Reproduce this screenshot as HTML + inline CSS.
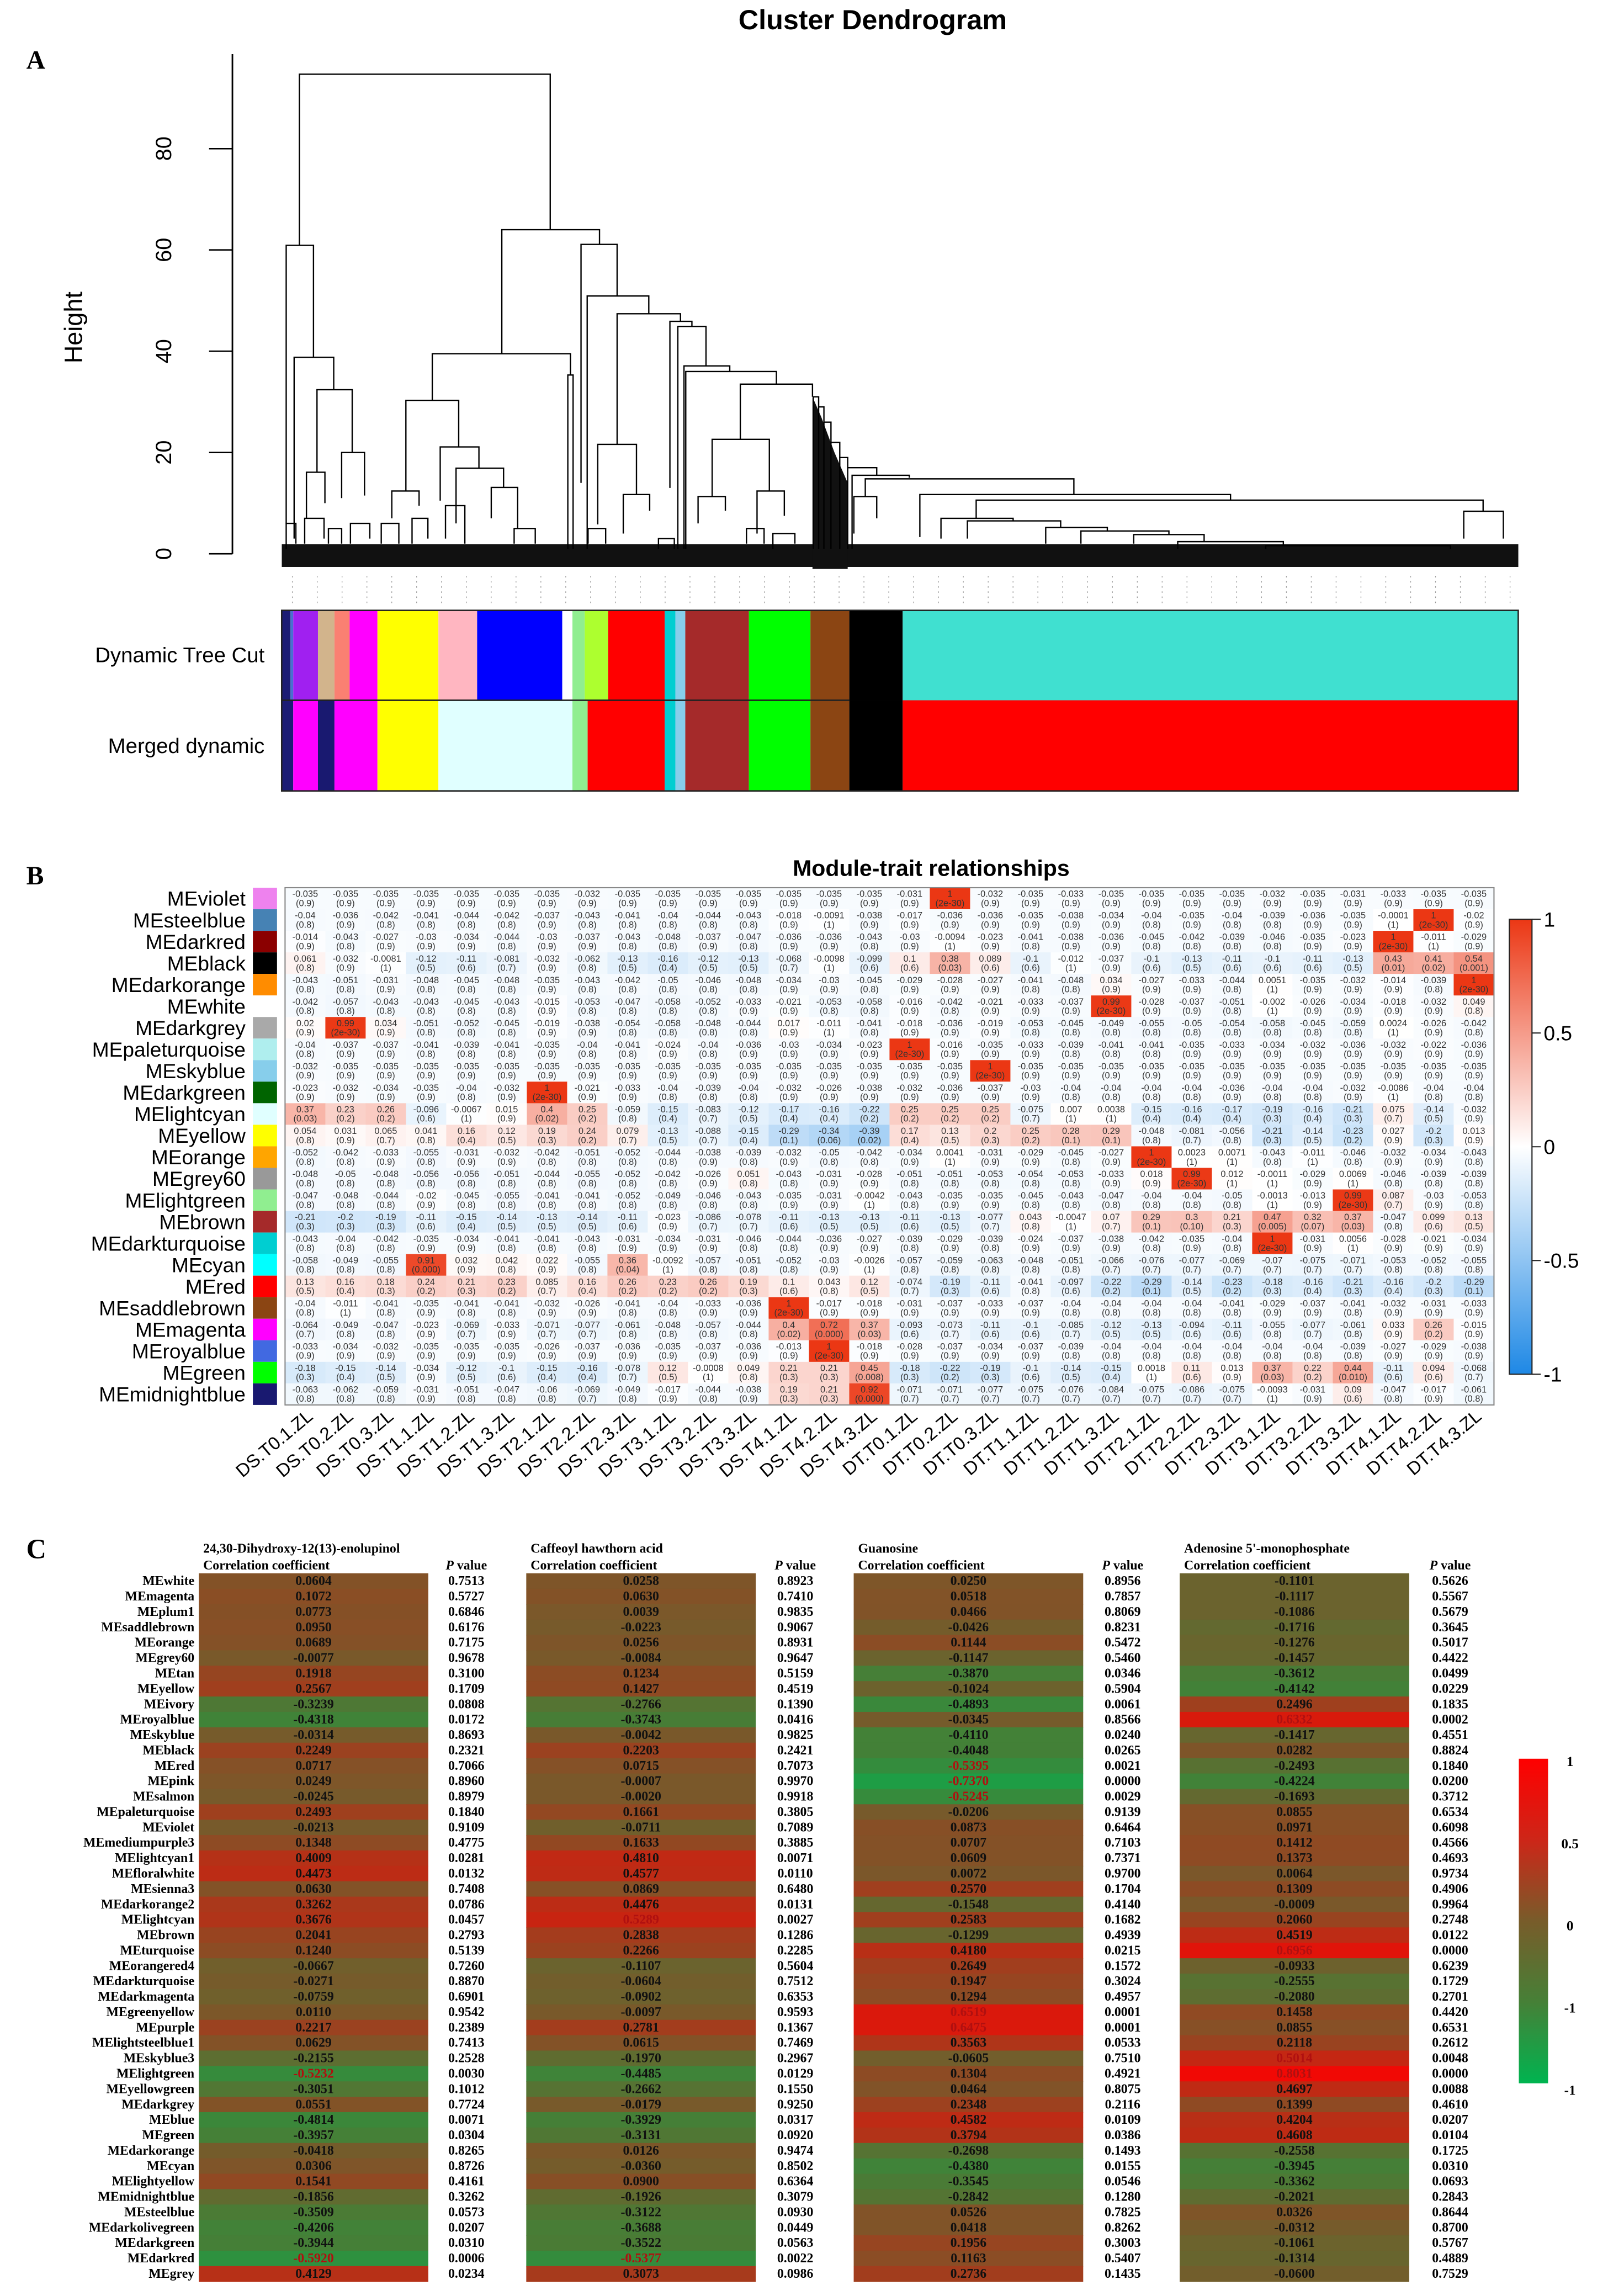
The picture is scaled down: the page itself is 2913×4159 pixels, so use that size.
<!DOCTYPE html>
<html><head><meta charset="utf-8">
<style>
html,body{margin:0;padding:0;background:#fff;}
svg{display:block;}
</style></head>
<body>
<svg id="fig" xmlns="http://www.w3.org/2000/svg" width="2913" height="4159" viewBox="0 0 1100 1570.5" preserveAspectRatio="none" font-family="Liberation Sans, sans-serif">
<rect x="0" y="0" width="1100" height="1570.5" fill="#fff"/>
<g id="panelA"></g>
<g id="panelB"></g>
<g id="panelC"></g>
</svg>
<script>
// ---------- Panel A data ----------
const heightTicks = [0, 20, 40, 60, 80];
// merges: [leftPos, rightPos, mergeHeight, leftChildHeight, rightChildHeight]
const merges = [
 [152,437,94.7,60.9,64.0],[137,168,60.9,6,38.8],[146,191,38.8,3,32.4],[172,212,32.4,16.1,20.0],
 [160,181,16.1,7,10],[200,226,20.0,11,11.5],[382,493,64.0,39.5,61.1],[303,460,39.5,30.3,35.3],
 [273,333,30.3,12.4,21.1],[257,288,12.4,7,9.5],[312,356,21.1,10.5,16.9],[330,384,16.9,6,13.1],
 [370,400,13.1,7,5],[457,463,35.3,1,1],[472,513,61.1,14,50.9],[479,549,50.9,1,47.4],
 [513,585,47.4,21.6,45.9],[491,535,21.6,5.8,11.7],[520,550,11.7,4,8.5],[573,598,45.9,13,44.9],
 [582,614,44.9,1,37.1],[589,641,37.1,1,36.0],[591,694,36.0,1,33.5],[653,735,33.5,22.6,31],
 [621,686,22.6,11.3,12.4],[605,636,11.3,6,8.5],[672,703,12.4,4,7.5],
 [736,742,31,1,29],[742,748,29,1,26],[748,756,26,1,22],[756,766,22,1,19],[766,775,19,1,17],
 [775,808,17,1,15.5],[780,845,15.5,1,15],[795,1032,14.8,11.3,11.7],[782,808,11.3,4,7],
 [857,1210,11.7,3.3,10.6],[921,1497,10.6,7.0,8.4],[881,963,7.0,3,6.5],[1475,1520,8.4,3,3],
 [911,1017,6.5,3,5.2],[1000,1070,5.2,2,4.5],[1040,1140,4.5,2,3.8],[1100,1180,3.8,2,2.5],
 [1150,1270,2.4,1,1.6],[1250,1460,1.6,1,1],[137,148,6,1,2],[158,180,7,2,3],[185,200,5,2,2],
 [210,232,6,2,3],[245,265,6,2,2],[280,298,7,2,3],[318,340,9.5,3,2],[396,420,5,2,2],
 [480,500,5,2,2],[560,578,3,1,1],[660,680,5,2,2],[690,715,4,1,2]
];
// ---------- Panel A: color bars ----------
const treeCutColors = ["#1c1c74","#4a6fd0","#a020f0","#d2b48c","#fa8072","#ff00ff","#ffff00","#ffb6c1","#0000ff","#ffffff","#90ee90","#adff2f","#ff0000","#00ced1","#87ceeb","#a52a2a","#00ff00","#8b4513","#000000","#40e0d0"];
const treeCutBreaks = [192.7,198.7,200.6,217.5,228.8,239.2,258.2,299.9,326.4,384.6,391.6,400,416,454.7,462,468.8,512.3,554.4,581,617.5,1038.6];
const mergedColors = ["#1c1c74","#ff00ff","#191970","#ff00ff","#ffff00","#e0ffff","#90ee90","#ff0000","#00ced1","#87ceeb","#a52a2a","#00ff00","#8b4513","#000000","#ff0000"];
const mergedBreaks = [192.7,200.6,217.5,228.8,258.2,299.9,391.6,402,454.7,462,468.8,512.3,554.4,581,617.5,1038.6];

// ---------- Panel B data ----------
const modules = ["MEviolet","MEsteelblue","MEdarkred","MEblack","MEdarkorange","MEwhite","MEdarkgrey","MEpaleturquoise","MEskyblue","MEdarkgreen","MElightcyan","MEyellow","MEorange","MEgrey60","MElightgreen","MEbrown","MEdarkturquoise","MEcyan","MEred","MEsaddlebrown","MEmagenta","MEroyalblue","MEgreen","MEmidnightblue"];
const moduleColors = ["#ee82ee","#4682b4","#8b0000","#000000","#ff8c00","#ffffff","#a9a9a9","#afeeee","#87ceeb","#006400","#e0ffff","#ffff00","#ffa500","#999999","#90ee90","#a52a2a","#00ced1","#00ffff","#ff0000","#8b4513","#ff00ff","#4169e1","#00ff00","#191970"];
const traits = ["DS.T0.1.ZL","DS.T0.2.ZL","DS.T0.3.ZL","DS.T1.1.ZL","DS.T1.2.ZL","DS.T1.3.ZL","DS.T2.1.ZL","DS.T2.2.ZL","DS.T2.3.ZL","DS.T3.1.ZL","DS.T3.2.ZL","DS.T3.3.ZL","DS.T4.1.ZL","DS.T4.2.ZL","DS.T4.3.ZL","DT.T0.1.ZL","DT.T0.2.ZL","DT.T0.3.ZL","DT.T1.1.ZL","DT.T1.2.ZL","DT.T1.3.ZL","DT.T2.1.ZL","DT.T2.2.ZL","DT.T2.3.ZL","DT.T3.1.ZL","DT.T3.2.ZL","DT.T3.3.ZL","DT.T4.1.ZL","DT.T4.2.ZL","DT.T4.3.ZL"];
const rViolet = [-0.035,-0.035,-0.035,-0.035,-0.035,-0.035,-0.035,-0.032,-0.035,-0.035,-0.035,-0.035,-0.035,-0.035,-0.035,-0.031,1,-0.032,-0.035,-0.033,-0.035,-0.035,-0.035,-0.035,-0.032,-0.035,-0.031,-0.033,-0.035,-0.035];
const rSteelblue = [-0.04,-0.036,-0.042,-0.041,-0.044,-0.042,-0.037,-0.043,-0.041,-0.04,-0.044,-0.043,-0.018,-0.0091,-0.038,-0.017,-0.036,-0.036,-0.035,-0.038,-0.034,-0.04,-0.035,-0.04,-0.039,-0.036,-0.035,-0.0001,1,-0.02];
const rDarkred = [-0.014,-0.043,-0.027,-0.03,-0.034,-0.044,-0.03,-0.037,-0.043,-0.048,-0.037,-0.047,-0.036,-0.036,-0.043,-0.03,-0.0094,-0.023,-0.041,-0.038,-0.036,-0.045,-0.042,-0.039,-0.046,-0.035,-0.023,1,-0.011,-0.029];
const rBlack = [0.061,-0.032,-0.0081,-0.12,-0.11,-0.081,-0.032,-0.062,-0.13,-0.16,-0.12,-0.13,-0.068,-0.0098,-0.099,0.1,0.38,0.089,-0.1,-0.012,-0.037,-0.1,-0.13,-0.11,-0.1,-0.11,-0.13,0.43,0.41,0.54];
const rDarkorange = [-0.043,-0.051,-0.031,-0.048,-0.045,-0.048,-0.035,-0.043,-0.042,-0.05,-0.046,-0.048,-0.034,-0.03,-0.045,-0.029,-0.028,-0.027,-0.041,-0.048,0.034,-0.027,-0.033,-0.044,0.0051,-0.035,-0.032,-0.014,-0.039,1];
const rWhite = [-0.042,-0.057,-0.043,-0.043,-0.045,-0.043,-0.015,-0.053,-0.047,-0.058,-0.052,-0.033,-0.021,-0.053,-0.058,-0.016,-0.042,-0.021,-0.033,-0.037,0.99,-0.028,-0.037,-0.051,-0.002,-0.026,-0.034,-0.018,-0.032,0.049];
const rDarkgrey = [0.02,0.99,0.034,-0.051,-0.052,-0.045,-0.019,-0.038,-0.054,-0.058,-0.048,-0.044,0.017,-0.011,-0.041,-0.018,-0.036,-0.019,-0.053,-0.045,-0.049,-0.055,-0.05,-0.054,-0.058,-0.045,-0.059,0.0024,-0.026,-0.042];
const rPaleturquoise = [-0.04,-0.037,-0.037,-0.041,-0.039,-0.041,-0.035,-0.04,-0.041,-0.024,-0.04,-0.036,-0.03,-0.034,-0.023,1,-0.016,-0.035,-0.033,-0.039,-0.041,-0.041,-0.035,-0.033,-0.034,-0.032,-0.036,-0.032,-0.022,-0.036];
const rSkyblue = [-0.032,-0.035,-0.035,-0.035,-0.035,-0.035,-0.035,-0.035,-0.035,-0.035,-0.035,-0.035,-0.035,-0.035,-0.035,-0.035,-0.035,1,-0.035,-0.035,-0.035,-0.035,-0.035,-0.035,-0.035,-0.035,-0.035,-0.035,-0.035,-0.035];
const rDarkgreen = [-0.023,-0.032,-0.034,-0.035,-0.04,-0.032,1,-0.021,-0.033,-0.04,-0.039,-0.04,-0.032,-0.026,-0.038,-0.032,-0.036,-0.037,-0.03,-0.04,-0.04,-0.04,-0.04,-0.036,-0.04,-0.04,-0.032,-0.0086,-0.04,-0.04];
const rLightcyan = [0.37,0.23,0.26,-0.096,-0.0067,0.015,0.4,0.25,-0.059,-0.15,-0.083,-0.12,-0.17,-0.16,-0.22,0.25,0.25,0.25,-0.075,0.007,0.0038,-0.15,-0.16,-0.17,-0.19,-0.16,-0.21,0.075,-0.14,-0.032];
const rYellow = [0.054,0.031,0.065,0.041,0.16,0.12,0.19,0.24,0.079,-0.13,-0.088,-0.15,-0.29,-0.34,-0.39,0.17,0.13,0.2,0.25,0.28,0.29,-0.048,-0.081,-0.056,-0.21,-0.14,-0.23,0.027,-0.2,0.013];
const rOrange = [-0.052,-0.042,-0.033,-0.055,-0.031,-0.032,-0.042,-0.051,-0.052,-0.044,-0.038,-0.039,-0.032,-0.05,-0.042,-0.034,0.0041,-0.031,-0.029,-0.045,-0.027,1,0.0023,0.0071,-0.043,-0.011,-0.046,-0.032,-0.034,-0.043];
const rGrey60 = [-0.048,-0.05,-0.048,-0.056,-0.056,-0.051,-0.044,-0.055,-0.052,-0.042,-0.026,0.051,-0.043,-0.031,-0.028,-0.051,-0.051,-0.053,-0.054,-0.053,-0.033,0.018,0.99,0.012,-0.0011,-0.029,0.0069,-0.046,-0.039,-0.039];
const rLightgreen = [-0.047,-0.048,-0.044,-0.02,-0.045,-0.055,-0.041,-0.041,-0.052,-0.049,-0.046,-0.043,-0.035,-0.031,-0.0042,-0.043,-0.035,-0.035,-0.045,-0.043,-0.047,-0.04,-0.04,-0.05,-0.0013,-0.013,0.99,0.087,-0.03,-0.053];
const rBrown = [-0.21,-0.2,-0.19,-0.11,-0.15,-0.14,-0.13,-0.14,-0.11,-0.023,-0.086,-0.078,-0.11,-0.13,-0.13,-0.11,-0.13,-0.077,0.043,-0.0047,0.07,0.29,0.3,0.21,0.47,0.32,0.37,-0.047,0.099,0.13];
const rDarkturquoise = [-0.043,-0.04,-0.042,-0.035,-0.034,-0.041,-0.041,-0.043,-0.031,-0.034,-0.031,-0.046,-0.044,-0.036,-0.027,-0.039,-0.029,-0.039,-0.024,-0.037,-0.038,-0.042,-0.035,-0.04,1,-0.031,0.0056,-0.028,-0.021,-0.034];
const rCyan = [-0.058,-0.049,-0.055,0.91,0.032,0.042,0.022,-0.055,0.36,-0.0092,-0.057,-0.051,-0.052,-0.03,-0.0026,-0.057,-0.059,-0.063,-0.048,-0.051,-0.066,-0.076,-0.077,-0.069,-0.07,-0.075,-0.071,-0.053,-0.052,-0.055];
const rRed = [0.13,0.16,0.18,0.24,0.21,0.23,0.085,0.16,0.26,0.23,0.26,0.19,0.1,0.043,0.12,-0.074,-0.19,-0.11,-0.041,-0.097,-0.22,-0.29,-0.14,-0.23,-0.18,-0.16,-0.21,-0.16,-0.2,-0.29];
const rSaddlebrown = [-0.04,-0.011,-0.041,-0.035,-0.041,-0.041,-0.032,-0.026,-0.041,-0.04,-0.033,-0.036,1,-0.017,-0.018,-0.031,-0.037,-0.033,-0.037,-0.04,-0.04,-0.04,-0.04,-0.041,-0.029,-0.037,-0.041,-0.032,-0.031,-0.033];
const rMagenta = [-0.064,-0.049,-0.047,-0.023,-0.069,-0.033,-0.071,-0.077,-0.061,-0.048,-0.057,-0.044,0.4,0.72,0.37,-0.093,-0.073,-0.11,-0.1,-0.085,-0.12,-0.13,-0.094,-0.11,-0.055,-0.077,-0.061,0.033,0.26,-0.015];
const rRoyalblue = [-0.033,-0.034,-0.032,-0.035,-0.035,-0.035,-0.026,-0.037,-0.036,-0.035,-0.037,-0.036,-0.013,1,-0.018,-0.028,-0.037,-0.034,-0.037,-0.039,-0.04,-0.04,-0.04,-0.04,-0.04,-0.04,-0.039,-0.027,-0.029,-0.038];
const rGreen = [-0.18,-0.15,-0.14,-0.034,-0.12,-0.1,-0.15,-0.16,-0.078,0.12,-0.0008,0.049,0.21,0.21,0.45,-0.18,-0.22,-0.19,-0.1,-0.14,-0.15,0.0018,0.11,0.013,0.37,0.22,0.44,-0.11,0.094,-0.068];
const rMidnightblue = [-0.063,-0.062,-0.059,-0.031,-0.051,-0.047,-0.06,-0.069,-0.049,-0.017,-0.044,-0.038,0.19,0.21,0.92,-0.071,-0.071,-0.077,-0.075,-0.076,-0.084,-0.075,-0.086,-0.075,-0.0093,-0.031,0.09,-0.047,-0.017,-0.061];
const corrRows = [rViolet,rSteelblue,rDarkred,rBlack,rDarkorange,rWhite,rDarkgrey,rPaleturquoise,rSkyblue,rDarkgreen,rLightcyan,rYellow,rOrange,rGrey60,rLightgreen,rBrown,rDarkturquoise,rCyan,rRed,rSaddlebrown,rMagenta,rRoyalblue,rGreen,rMidnightblue];
const legendBTicks = [1,0.5,0,-0.5,-1];

// ---------- Panel C data ----------
const compounds = ["24,30-Dihydroxy-12(13)-enolupinol","Caffeoyl hawthorn acid","Guanosine","Adenosine 5'-monophosphate"];
const cModules = ["MEwhite","MEmagenta","MEplum1","MEsaddlebrown","MEorange","MEgrey60","MEtan","MEyellow","MEivory","MEroyalblue","MEskyblue","MEblack","MEred","MEpink","MEsalmon","MEpaleturquoise","MEviolet","MEmediumpurple3","MElightcyan1","MEfloralwhite","MEsienna3","MEdarkorange2","MElightcyan","MEbrown","MEturquoise","MEorangered4","MEdarkturquoise","MEdarkmagenta","MEgreenyellow","MEpurple","MElightsteelblue1","MEskyblue3","MElightgreen","MEyellowgreen","MEdarkgrey","MEblue","MEgreen","MEdarkorange","MEcyan","MElightyellow","MEmidnightblue","MEsteelblue","MEdarkolivegreen","MEdarkgreen","MEdarkred","MEgrey"];
const coef1 = [0.0604,0.1072,0.0773,0.0950,0.0689,-0.0077,0.1918,0.2567,-0.3239,-0.4318,-0.0314,0.2249,0.0717,0.0249,-0.0245,0.2493,-0.0213,0.1348,0.4009,0.4473,0.0630,0.3262,0.3676,0.2041,0.1240,-0.0667,-0.0271,-0.0759,0.0110,0.2217,0.0629,-0.2155,-0.5232,-0.3051,0.0551,-0.4814,-0.3957,-0.0418,0.0306,0.1541,-0.1856,-0.3509,-0.4206,-0.3944,-0.5920,0.4129];
const pval1 = ["0.7513","0.5727","0.6846","0.6176","0.7175","0.9678","0.3100","0.1709","0.0808","0.0172","0.8693","0.2321","0.7066","0.8960","0.8979","0.1840","0.9109","0.4775","0.0281","0.0132","0.7408","0.0786","0.0457","0.2793","0.5139","0.7260","0.8870","0.6901","0.9542","0.2389","0.7413","0.2528","0.0030","0.1012","0.7724","0.0071","0.0304","0.8265","0.8726","0.4161","0.3262","0.0573","0.0207","0.0310","0.0006","0.0234"];
const coef2 = [0.0258,0.0630,0.0039,-0.0223,0.0256,-0.0084,0.1234,0.1427,-0.2766,-0.3743,-0.0042,0.2203,0.0715,-0.0007,-0.0020,0.1661,-0.0711,0.1633,0.4810,0.4577,0.0869,0.4476,0.5289,0.2838,0.2266,-0.1107,-0.0604,-0.0902,-0.0097,0.2781,0.0615,-0.1970,-0.4485,-0.2662,-0.0179,-0.3929,-0.3131,0.0126,-0.0360,0.0900,-0.1926,-0.3122,-0.3688,-0.3522,-0.5377,0.3073];
const pval2 = ["0.8923","0.7410","0.9835","0.9067","0.8931","0.9647","0.5159","0.4519","0.1390","0.0416","0.9825","0.2421","0.7073","0.9970","0.9918","0.3805","0.7089","0.3885","0.0071","0.0110","0.6480","0.0131","0.0027","0.1286","0.2285","0.5604","0.7512","0.6353","0.9593","0.1367","0.7469","0.2967","0.0129","0.1550","0.9250","0.0317","0.0920","0.9474","0.8502","0.6364","0.3079","0.0930","0.0449","0.0563","0.0022","0.0986"];
const coef3 = [0.0250,0.0518,0.0466,-0.0426,0.1144,-0.1147,-0.3870,-0.1024,-0.4893,-0.0345,-0.4110,-0.4048,-0.5395,-0.7370,-0.5245,-0.0206,0.0873,0.0707,0.0609,0.0072,0.2570,-0.1548,0.2583,-0.1299,0.4180,0.2649,0.1947,0.1294,0.6519,0.6475,0.3563,-0.0605,0.1304,0.0464,0.2348,0.4582,0.3794,-0.2698,-0.4380,-0.3545,-0.2842,0.0526,0.0418,0.1956,0.1163,0.2736];
const pval3 = ["0.8956","0.7857","0.8069","0.8231","0.5472","0.5460","0.0346","0.5904","0.0061","0.8566","0.0240","0.0265","0.0021","0.0000","0.0029","0.9139","0.6464","0.7103","0.7371","0.9700","0.1704","0.4140","0.1682","0.4939","0.0215","0.1572","0.3024","0.4957","0.0001","0.0001","0.0533","0.7510","0.4921","0.8075","0.2116","0.0109","0.0386","0.1493","0.0155","0.0546","0.1280","0.7825","0.8262","0.3003","0.5407","0.1435"];
const coef4 = [-0.1101,-0.1117,-0.1086,-0.1716,-0.1276,-0.1457,-0.3612,-0.4142,0.2496,0.6332,-0.1417,0.0282,-0.2493,-0.4224,-0.1693,0.0855,0.0971,0.1412,0.1373,0.0064,0.1309,-0.0009,0.2060,0.4519,0.6956,-0.0933,-0.2555,-0.2080,0.1458,0.0855,0.2118,0.5014,0.8031,0.4697,0.1399,0.4204,0.4608,-0.2558,-0.3945,-0.3362,-0.2021,0.0326,-0.0312,-0.1061,-0.1314,-0.0600];
const pval4 = ["0.5626","0.5567","0.5679","0.3645","0.5017","0.4422","0.0499","0.0229","0.1835","0.0002","0.4551","0.8824","0.1840","0.0200","0.3712","0.6534","0.6098","0.4566","0.4693","0.9734","0.4906","0.9964","0.2748","0.0122","0.0000","0.6239","0.1729","0.2701","0.4420","0.6531","0.2612","0.0048","0.0000","0.0088","0.4610","0.0207","0.0104","0.1725","0.0310","0.0693","0.2843","0.8644","0.8700","0.5767","0.4889","0.7529"];
const legendCLabels = ["1","0.5","0","-1","-1"];

// ---------- helpers ----------
const NS = "http://www.w3.org/2000/svg";
function el(tag, attrs, parent, text){
  const e = document.createElementNS(NS, tag);
  for (const k in attrs) e.setAttribute(k, attrs[k]);
  if (text !== undefined) e.textContent = text;
  parent.appendChild(e);
  return e;
}
const A = document.getElementById('panelA');
const B = document.getElementById('panelB');
const C = document.getElementById('panelC');

// ---------- Panel A ----------
const xLeaf = p => 113.3 + p / 1.661;
const yH = h => 378.8 - h * 3.464;

let t = el('text', {x:597, y:20, 'text-anchor':'middle', 'font-size':19, 'font-weight':'bold'}, A, 'Cluster Dendrogram');


t = el('text', {x:18, y:47, 'font-size':18, 'font-weight':'bold', 'font-family':'Liberation Serif, serif'}, A, 'A');



let ax = el('line', {x1:159, x2:159, y1:37, y2:yH(0), stroke:'#000', 'stroke-width':1.1}, A);


heightTicks.forEach(v => {
  const tk = el('line', {x1:143, x2:159, y1:yH(v), y2:yH(v), stroke:'#000', 'stroke-width':1}, A);
  
  
  const lb = el('text', {x:0, y:0, 'text-anchor':'middle', 'font-size':15, transform:`translate(117,${yH(v)}) rotate(-90)`}, A, String(v));
  
  
});
t = el('text', {x:0, y:0, 'text-anchor':'middle', 'font-size':17, transform:'translate(56,224) rotate(-90)'}, A, 'Height');



// dense leaf band
let band = el('rect', {x:xLeaf(132), y:yH(1.9), width:xLeaf(1537)-xLeaf(132), height:yH(-2.6)-yH(1.9), fill:'#111'}, A);


let dense = el('path', {d:`M${xLeaf(735)},${yH(-3)}V${yH(31)}L${xLeaf(745)},${yH(27)}L${xLeaf(760)},${yH(20)}L${xLeaf(775)},${yH(14)}V${yH(-3)}Z`, fill:'#111'}, A);


merges.forEach(m => {
  const [l, r, h, hl, hr] = m;
  const p = el('path', {d:`M${xLeaf(l)},${yH(hl)}V${yH(h)}H${xLeaf(r)}V${yH(hr)}`, fill:'none', stroke:'#000', 'stroke-width':0.9}, A);
  
  
});
// dotted leaf marks
for (let x = 200; x < 1037; x += 17) {
  const d = el('line', {x1:x, x2:x, y1:394, y2:413, stroke:'#999', 'stroke-width':0.5, 'stroke-dasharray':'1 2.5'}, A);
  
  
}

function drawBar(colors, breaks, y, h, name){
  colors.forEach((c, i) => {
    const r = el('rect', {x:breaks[i], y:y, width:breaks[i+1]-breaks[i], height:h, fill:c}, A);
    
    
  });
}
drawBar(treeCutColors, treeCutBreaks, 417.5, 61.5, 'dynamic-tree-cut');
drawBar(mergedColors, mergedBreaks, 479, 62, 'merged-dynamic');
let fr = el('rect', {x:192.7, y:417.5, width:845.9, height:123.5, fill:'none', stroke:'#222', 'stroke-width':1}, A);


fr = el('line', {x1:192.7, x2:581, y1:479, y2:479, stroke:'#222', 'stroke-width':1}, A);


t = el('text', {x:181, y:453, 'text-anchor':'end', 'font-size':14.5}, A, 'Dynamic Tree Cut');


t = el('text', {x:181, y:515, 'text-anchor':'end', 'font-size':14.5}, A, 'Merged dynamic');



// ---------- Panel B ----------
const hx0 = 195, hx1 = 1022, hy0 = 607.2, hy1 = 961;
const cw = (hx1-hx0)/traits.length, ch = (hy1-hy0)/modules.length;
const colX = j => hx0 + j*cw;
const rowY = i => hy0 + i*ch;
function bwr(v){
  v = Math.max(-1, Math.min(1, v));
  if (v >= 0) return `rgb(${Math.round(255-20*v)},${Math.round(255-200*v)},${Math.round(255-235*v)})`;
  const a = -v; return `rgb(${Math.round(255-225*a)},${Math.round(255-119*a)},${Math.round(255-26*a)})`;
}
function pLabel(r){
  const a = Math.abs(r);
  if (a >= 0.98) return '(2e-30)';
  const tt = a*Math.sqrt(28)/Math.sqrt(1-a*a);
  let p = Math.exp(-0.717*tt - 0.416*tt*tt);
  if (p >= 0.95) return '(1)';
  if (p >= 0.1) return '(' + p.toFixed(1) + ')';
  if (p >= 0.01) return '(' + p.toFixed(2) + ')';
  return '(' + p.toFixed(3) + ')';
}
t = el('text', {x:637, y:599, 'text-anchor':'middle', 'font-size':15.5, 'font-weight':'bold'}, B, 'Module-trait relationships');


t = el('text', {x:18, y:605, 'font-size':18, 'font-weight':'bold', 'font-family':'Liberation Serif, serif'}, B, 'B');



modules.forEach((m, i) => {
  const lb = el('text', {x:168, y:rowY(i)+ch/2+5, 'text-anchor':'end', 'font-size':14}, B, m);
  
  
  const sw = el('rect', {x:173, y:rowY(i), width:16.5, height:ch, fill:moduleColors[i]}, B);
  
  
  corrRows[i].forEach((v, j) => {
    const cell = el('rect', {x:colX(j), y:rowY(i), width:cw+0.3, height:ch+0.3, fill:bwr(v)}, B);
    
    
    const tv = el('text', {x:colX(j)+cw/2, y:rowY(i)+6.3, 'text-anchor':'middle', 'font-size':6.2, fill:'#333'}, B, String(v));
    
    
    const tp = el('text', {x:colX(j)+cw/2, y:rowY(i)+12.6, 'text-anchor':'middle', 'font-size':6.2, fill:'#333'}, B, pLabel(v));
    
    
  });
});
let hf = el('rect', {x:hx0, y:hy0, width:hx1-hx0, height:hy1-hy0, fill:'none', stroke:'#888', 'stroke-width':0.8}, B);


traits.forEach((tr, j) => {
  const cx = colX(j) + cw/2 + 6;
  const lb = el('text', {x:0, y:0, 'text-anchor':'end', 'font-size':12.5, transform:`translate(${cx},970) rotate(-40)`}, B, tr);
  
  
});
// legend B
const defs = el('defs', {}, document.getElementById('fig'));
const gB = el('linearGradient', {id:'gB', x1:0, y1:0, x2:0, y2:1}, defs);
[1,0.5,0,-0.5,-1].forEach((v,k) => el('stop', {offset:(k*25)+'%', 'stop-color':bwr(v)}, gB));
const lgy0 = 628.8, lgy1 = 940;
const lgY = v => lgy0 + (1-v)/2*(lgy1-lgy0);
let lg = el('rect', {x:1032.5, y:lgy0, width:15.5, height:lgy1-lgy0, fill:'url(#gB)', stroke:'#222', 'stroke-width':0.8}, B);


legendBTicks.forEach(v => {
  const tk = el('line', {x1:1048, x2:1054, y1:lgY(v), y2:lgY(v), stroke:'#222', 'stroke-width':0.8}, B);
  
  
  const lb = el('text', {x:1056, y:lgY(v)+5, 'font-size':14}, B, String(v));
  
  
});

// ---------- Panel C ----------
function rg(v){
  const lerp = (a,b,t) => a.map((x,k)=>Math.round(x+(b[k]-x)*t));
  const z=[122,88,42];
  let c;
  if (v >= 0) c = lerp(z,[255,0,0],Math.min(1,v/0.9));
  else { const a=-v; c = a<=0.4 ? lerp(z,[68,128,55],a/0.4) : lerp([68,128,55],[0,180,80],Math.min(1,(a-0.4)/0.6)); }
  return `rgb(${c[0]},${c[1]},${c[2]})`;
}
const cy0 = 1076.2, rh = 10.53;
const rowYC = i => cy0 + i*rh;
const boxX = [136,360,584,807], boxW = 157, pX = [319,544,768,992];
const coefs = [coef1,coef2,coef3,coef4], pvals = [pval1,pval2,pval3,pval4];
const serif = 'Liberation Serif, serif';
t = el('text', {x:18, y:1066, 'font-size':19, 'font-weight':'bold', 'font-family':serif}, C, 'C');


compounds.forEach((cp, k) => {
  const h1 = el('text', {x:boxX[k]+3, y:1062, 'font-size':9, 'font-weight':'bold', 'font-family':serif}, C, cp);
  
  
  const h2 = el('text', {x:boxX[k]+3, y:1073.5, 'font-size':9, 'font-weight':'bold', 'font-family':serif}, C, 'Correlation coefficient');
  
  
  const h3 = el('text', {x:pX[k], y:1073.5, 'text-anchor':'middle', 'font-size':9, 'font-weight':'bold', 'font-family':serif}, C);
  
  
  el('tspan', {'font-style':'italic'}, h3, 'P');
  el('tspan', {}, h3, ' value');
});
cModules.forEach((m, i) => {
  const lb = el('text', {x:133, y:rowYC(i)+8, 'text-anchor':'end', 'font-size':9, 'font-weight':'bold', 'font-family':serif}, C, m);
  
  
  coefs.forEach((arr, k) => {
    const v = arr[i];
    const r = el('rect', {x:boxX[k], y:rowYC(i), width:boxW, height:rh+0.3, fill:rg(v)}, C);
    
    
    const tv = el('text', {x:boxX[k]+boxW/2, y:rowYC(i)+8, 'text-anchor':'middle', 'font-size':9, 'font-weight':'bold', 'font-family':serif, fill: Math.abs(v)>0.5 ? '#b01010' : '#111'}, C, v.toFixed(4));
    
    
    const tp = el('text', {x:pX[k], y:rowYC(i)+8, 'text-anchor':'middle', 'font-size':9, 'font-weight':'bold', 'font-family':serif}, C, pvals[k][i]);
    
    
  });
});
// legend C
const gC = el('linearGradient', {id:'gC', x1:0, y1:0, x2:0, y2:1}, defs);
[[0,'rgb(255,0,0)'],[25,'rgb(205,38,24)'],[50,'rgb(120,92,42)'],[75,'rgb(70,128,55)'],[100,'rgb(0,180,80)']].forEach(s => el('stop', {offset:s[0]+'%', 'stop-color':s[1]}, gC));
let lgc = el('rect', {x:1039, y:1203, width:20, height:222, fill:'url(#gC)'}, C);


legendCLabels.forEach((s, k) => {
  const lb = el('text', {x:1074, y:1208 + k*56.2, 'text-anchor':'middle', 'font-size':9.5, 'font-weight':'bold', 'font-family':serif}, C, s);
  
  
});
</script>
</body></html>
